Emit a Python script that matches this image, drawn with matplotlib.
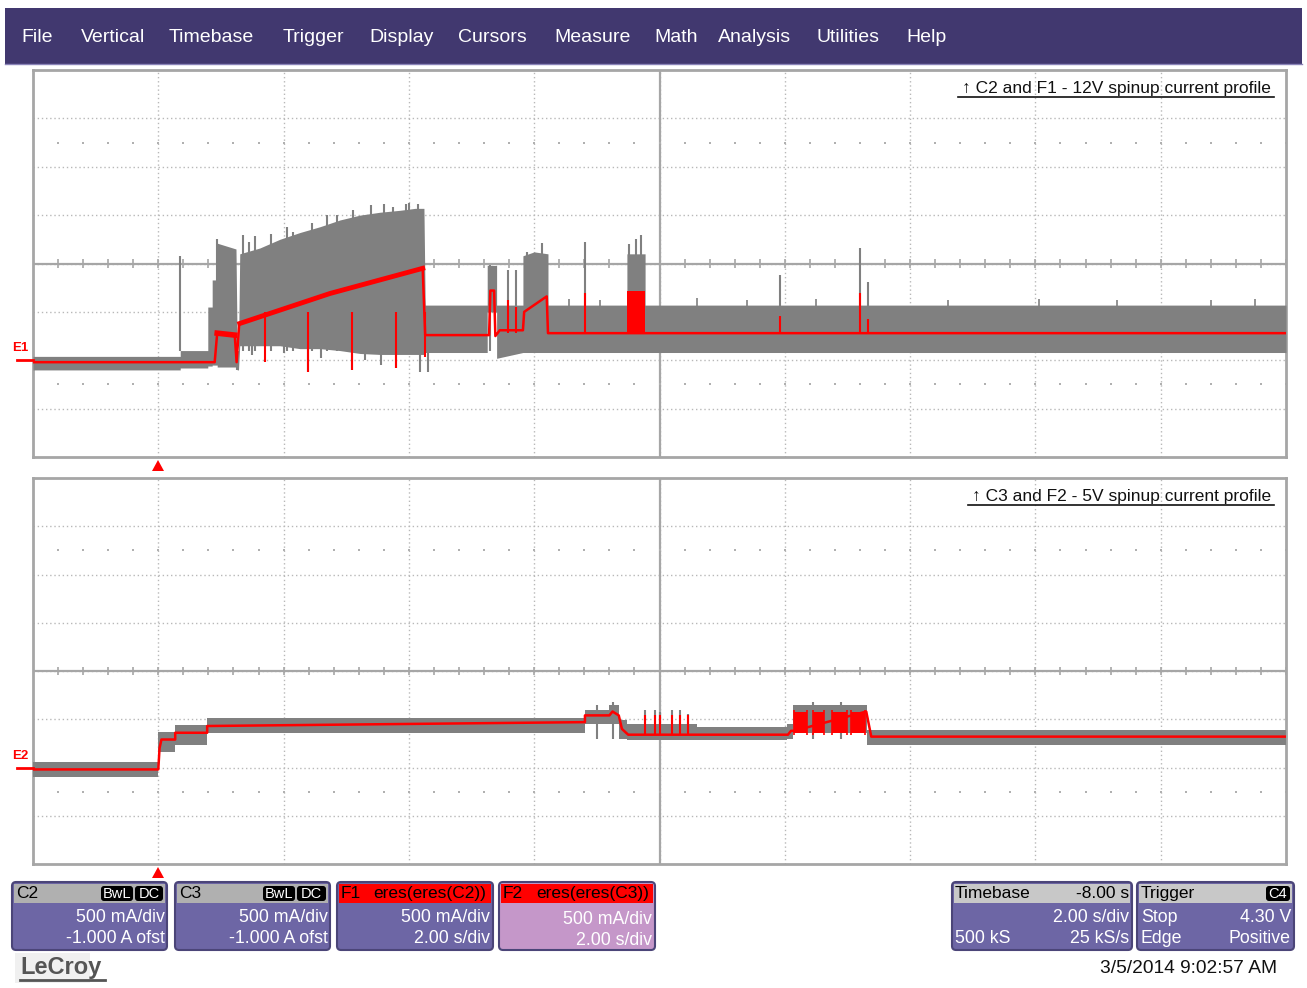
import numpy as np
import matplotlib
matplotlib.use('Agg')
import matplotlib.pyplot as plt
from matplotlib.patches import Rectangle, FancyBboxPatch, Polygon

plt.rcParams['font.family'] = ['Liberation Sans', 'DejaVu Sans']

W, H = 1307, 988

# ---------------- data (time in s, current in A) ----------------
menu_items = ['File', 'Vertical', 'Timebase', 'Trigger', 'Display', 'Cursors',
              'Measure', 'Math', 'Analysis', 'Utilities', 'Help']
menu_x = [21, 81, 169, 283, 369, 458, 554, 654, 718, 817, 906]

# C2 raw (gray) envelope, polyline breakpoints
c2_t  = [-2.00, 0.35, 0.35, 0.79, 0.79, 0.86, 0.86, 0.94, 0.94, 1.24, 1.26, 1.28, 1.30, 1.62, 1.94, 2.26,
         2.58, 2.90, 3.22, 3.54, 3.86, 4.10, 4.24, 4.26, 5.25, 5.25, 5.40, 5.40, 5.82, 5.82, 6.00, 6.22,
         6.22, 7.48, 7.48, 7.77, 7.77, 18.0]
c2_hi = [0.04, 0.04, 0.10, 0.10, 0.55, 0.55, 0.83, 0.83, 1.21, 1.15, 0.10, 0.10, 1.10, 1.16, 1.25, 1.32,
         1.38, 1.45, 1.50, 1.53, 1.55, 1.57, 1.57, 0.57, 0.57, 0.98, 0.98, 0.57, 0.57, 1.08, 1.12, 1.10,
         0.57, 0.57, 1.10, 1.10, 0.57, 0.57]
c2_lo = [-0.10, -0.10, -0.08, -0.08, -0.06, -0.06, -0.05, -0.05, -0.07, -0.07, -0.10, -0.10, 0.15, 0.15, 0.15, 0.12,
         0.12, 0.10, 0.07, 0.06, 0.06, 0.06, 0.06, 0.08, 0.08, 0.50, 0.50, 0.02, 0.08, 0.08, 0.08, 0.08,
         0.08, 0.08, 0.08, 0.08, 0.08, 0.08]
# C2 isolated spikes (time, top)
c2_spk_t   = [0.35, 0.94, 1.35, 1.45, 1.55, 1.80, 2.05, 2.15, 2.45, 2.70, 2.85, 3.10, 3.40, 3.60, 3.75,
              3.95, 4.00, 4.15, 5.30, 5.58, 5.71, 5.88, 6.12, 6.81, 7.52, 7.62, 7.70, 9.92, 11.20, 11.33]
c2_spk_top = [1.08, 1.25, 1.29, 1.22, 1.28, 1.30, 1.38, 1.33, 1.42, 1.50, 1.50, 1.55, 1.60, 1.62, 1.58,
              1.62, 1.63, 1.62, 0.98, 0.93, 0.93, 1.12, 1.21, 1.22, 1.20, 1.25, 1.29, 0.88, 1.16, 0.81]
c2_dip_t   = [1.26, 1.50, 2.00, 2.39, 2.60, 3.09, 3.30, 3.55, 3.79, 4.18, 4.30]
c2_dip_bot = [-0.10, 0.05, 0.07, -0.12, 0.02, -0.10, 0.00, -0.05, -0.08, -0.12, -0.12]
c2_bump_t   = [6.55, 7.05, 8.60, 9.40, 10.50, 12.60, 14.05, 15.30, 16.80, 17.50]
c2_bump_top = [0.63, 0.62, 0.64, 0.62, 0.63, 0.62, 0.63, 0.62, 0.62, 0.63]

# F1 filtered (red)
f1_t = [-2.00, 0.90, 0.94, 1.22, 1.25, 1.29, 1.30, 2.74, 4.22, 4.26, 5.28, 5.30, 5.36, 5.38, 5.45, 5.82, 5.84, 6.20, 6.22, 18.0]
f1_a = [-0.02, -0.02, 0.28, 0.26, -0.02, 0.36, 0.38, 0.69, 0.95, 0.26, 0.26, 0.72, 0.72, 0.25, 0.31, 0.31, 0.50, 0.66, 0.28, 0.28]
f1_spk_t = [1.70, 2.39, 3.09, 3.79, 4.26]
f1_spk_v = [-0.02, -0.12, -0.10, -0.08, 0.03]
f1_up_t = [5.58, 5.71, 6.81, 9.92, 11.20, 11.33]
f1_up_v = [0.62, 0.55, 0.69, 0.46, 0.69, 0.43]
f1_block = (7.48, 7.77, 0.28, 0.72)

# C3 raw (gray) envelope
c3_t  = [-2.00, 0.00, 0.27, 0.78, 6.81, 7.20, 7.35, 7.48, 8.60, 10.03, 10.13, 11.32, 18.0]
c3_hi = [0.06, 0.37, 0.44, 0.51, 0.60, 0.65, 0.49, 0.45, 0.42, 0.45, 0.65, 0.39, 0.39]
c3_lo = [-0.10, 0.16, 0.23, 0.36, 0.45, 0.45, 0.30, 0.28, 0.28, 0.30, 0.36, 0.23, 0.23]
c3_spk_t   = [7.00, 7.25, 7.77, 7.93, 8.01, 8.20, 8.33, 8.45, 10.45, 10.90]
c3_spk_top = [0.65, 0.68, 0.60, 0.60, 0.58, 0.60, 0.60, 0.55, 0.68, 0.68]

# F2 filtered (red)
f2_t = [-2.00, 0.00, 0.02, 0.05, 0.27, 0.27, 0.78, 0.78, 6.81, 6.81, 7.20, 7.25, 7.35, 7.40, 7.50, 10.05, 10.10, 10.15, 11.30, 11.38, 18.0]
f2_a = [-0.02, -0.02, 0.20, 0.29, 0.29, 0.36, 0.36, 0.43, 0.47, 0.54, 0.54, 0.58, 0.54, 0.40, 0.34, 0.34, 0.38, 0.38, 0.58, 0.32, 0.32]
f2_spk_t = [7.77, 7.93, 8.01, 8.20, 8.33, 8.45]
f2_block_t = [10.15, 10.35, 10.45, 10.62, 10.75, 11.00, 11.05, 11.28]

GRAY = '#808080'
RED = '#ff0000'


def fbox(x0, y0, x1, y1):
    return [x0 / W, 1 - y1 / H, (x1 - x0) / W, (y1 - y0) / H]


fig = plt.figure(figsize=(W / 100, H / 100), dpi=100)
fig.patch.set_facecolor('white')

bg = fig.add_axes([0, 0, 1, 1], zorder=0)
bg.set_xlim(0, W)
bg.set_ylim(H, 0)
bg.axis('off')

fg = fig.add_axes([0, 0, 1, 1], zorder=5)
fg.set_xlim(0, W)
fg.set_ylim(H, 0)
fg.axis('off')
fg.patch.set_alpha(0)

# menu bar
bg.add_patch(Rectangle((5, 8), 1297, 56, color='#41386f', lw=0))
bg.plot([5, 1302], [64, 64], color='#8a84b8', lw=1)
for s, x in zip(menu_items, menu_x):
    bg.text(x, 37, s, color='white', fontsize=14, va='center', ha='left')


def panel(box, ylim, title):
    ax = fig.add_axes(fbox(*box), zorder=2)
    ax.set_xlim(-2, 18)
    ax.set_ylim(*ylim)
    ax.set_xticks([])
    ax.set_yticks([])
    for sp in ax.spines.values():
        sp.set_color('#a6a6a6')
        sp.set_linewidth(2)
    y0, y1 = ylim
    dy = (y1 - y0) / 8
    yc = y0 + 4 * dy
    gx = np.arange(-2, 18.01, 2.0)
    gy = y0 + dy * np.arange(9)
    ax.vlines(gx[1:-1], y0, y1, colors='#b8b8b8', linestyles=(0, (1, 2)), lw=1, zorder=1)
    ax.hlines(gy[1:-1], -2, 18, colors='#b8b8b8', linestyles=(0, (1, 2)), lw=1, zorder=1)
    ax.axvline(8, color='#a6a6a6', lw=1.6, zorder=1)
    ax.axhline(yc, color='#a6a6a6', lw=1.6, zorder=1)
    mt = np.arange(-2, 18.01, 0.4)
    ax.vlines(mt, yc - dy * 0.09, yc + dy * 0.09, colors='#a6a6a6', lw=1.2, zorder=1)
    for r in (yc - 2.5 * dy, yc + 2.5 * dy):
        ax.scatter(mt, np.full(mt.shape, r), s=1.5, color='#b0b0b0', marker='s', lw=0, zorder=1)
    ax.text(0.988, 0.953, title, transform=ax.transAxes, ha='right', va='center', fontsize=12.5, color='#111111')
    return ax


top = panel((33, 70, 1286, 457), (-1.0, 3.0), '\u2191 C2 and F1 - 12V spinup current profile')
bot = panel((33, 478, 1286, 864), (-1.0, 3.0), '\u2191 C3 and F2 - 5V spinup current profile')

# underline of titles
fg.plot([958, 1274], [97, 97], color='#111111', lw=1.2)
fg.plot([968, 1274], [505, 505], color='#111111', lw=1.2)

# top traces
top.fill_between(c2_t, c2_lo, c2_hi, color=GRAY, lw=0, zorder=3)
top.vlines(c2_spk_t, 0.1, c2_spk_top, color=GRAY, lw=1.5, zorder=3)
top.vlines(c2_dip_t, c2_dip_bot, 0.2, color=GRAY, lw=1.5, zorder=3)
top.vlines(c2_bump_t, 0.3, c2_bump_top, color=GRAY, lw=1.2, zorder=3)
top.plot(f1_t, f1_a, color=RED, lw=1.8, zorder=4)
top.plot(f1_t[2:4], f1_a[2:4], color=RED, lw=4, zorder=4)
top.plot(f1_t[6:9], f1_a[6:9], color=RED, lw=3.5, zorder=4)
top.vlines(f1_spk_t, f1_spk_v, 0.5, color=RED, lw=1.5, zorder=4)
top.vlines(f1_up_t, 0.28, f1_up_v, color=RED, lw=1.5, zorder=4)
top.add_patch(Rectangle((f1_block[0], f1_block[2]), f1_block[1] - f1_block[0], f1_block[3] - f1_block[2],
                        color=RED, lw=0, zorder=4))

# bottom traces
bot.fill_between(c3_t, c3_lo, c3_hi, step='post', color=GRAY, lw=0, zorder=3)
bot.vlines(c3_spk_t, 0.3, c3_spk_top, color=GRAY, lw=1.5, zorder=3)
bot.plot(f2_t, f2_a, color=RED, lw=1.8, zorder=4)
bot.vlines(f2_spk_t, 0.34, 0.54, color=RED, lw=1.5, zorder=4)
for a, b in zip(f2_block_t[::2], f2_block_t[1::2]):
    bot.fill_between([a, b], 0.36, 0.58, color=RED, lw=0, zorder=4)
bot.vlines(f2_block_t, 0.34, 0.60, color=RED, lw=1.2, zorder=4)

# ground markers and trigger arrows
for yz, lab in ((360, 'E1'), (768, 'E2')):
    fg.plot([17, 33], [yz, yz], color=RED, lw=2)
    fg.text(12, yz - 12, lab, color=RED, fontsize=9.5, fontweight='bold', ha='left', va='center')
for yt in (466, 873):
    bg.add_patch(Polygon([[152, yt + 5], [164, yt + 5], [158, yt - 6]], closed=True, color=RED, lw=0))


# info boxes
def info_box(x0, x1, head_col, body_col, lines, head_text):
    bg.add_patch(FancyBboxPatch((x0, 882), x1 - x0, 68, boxstyle='round,pad=0,rounding_size=4',
                                fc=body_col, ec='#4b4578', lw=1.5))
    bg.add_patch(Rectangle((x0 + 2, 884), x1 - x0 - 4, 19, color=head_col, lw=0))
    for (x, y, s, ha, c) in head_text:
        bg.text(x, y, s, ha=ha, va='center', fontsize=12.5, color=c)
    for (x, y, s, ha) in lines:
        bg.text(x, y, s, ha=ha, va='center', fontsize=12.8, color='white')


def badge(x0, x1, s):
    bg.add_patch(FancyBboxPatch((x0, 886), x1 - x0, 15, boxstyle='round,pad=0,rounding_size=3',
                                fc='black', ec='none'))
    bg.text((x0 + x1) / 2, 893.5, s, ha='center', va='center', fontsize=10.5, color='white')


PURPLE = '#6d66a5'
info_box(12, 167, '#b0b0b0', PURPLE, [(165, 917, '500 mA/div', 'right'), (165, 938, '-1.000 A ofst', 'right')],
         [(16, 893, 'C2', 'left', 'black')])
badge(101, 133, 'BwL')
badge(135, 163, 'DC')
info_box(175, 330, '#b0b0b0', PURPLE, [(328, 917, '500 mA/div', 'right'), (328, 938, '-1.000 A ofst', 'right')],
         [(179, 893, 'C3', 'left', 'black')])
badge(263, 295, 'BwL')
badge(297, 326, 'DC')
info_box(337, 493, RED, PURPLE, [(490, 917, '500 mA/div', 'right'), (490, 938, '2.00 s/div', 'right')],
         [(341, 893, 'F1', 'left', 'black'), (373, 893, 'eres(eres(C2))', 'left', 'black')])
info_box(499, 655, RED, '#c597c9', [(652, 919, '500 mA/div', 'right'), (652, 940, '2.00 s/div', 'right')],
         [(503, 893, 'F2', 'left', 'black'), (536, 893, 'eres(eres(C3))', 'left', 'black')])
info_box(952, 1132, '#c8c8c8', PURPLE,
         [(1129, 917, '2.00 s/div', 'right'), (955, 938, '500 kS', 'left'), (1129, 938, '25 kS/s', 'right')],
         [(955, 893, 'Timebase', 'left', 'black'), (1129, 893, '-8.00 s', 'right', 'black')])
info_box(1137, 1294, '#c8c8c8', PURPLE,
         [(1141, 917, 'Stop', 'left'), (1291, 917, '4.30 V', 'right'),
          (1141, 938, 'Edge', 'left'), (1291, 938, 'Positive', 'right')],
         [(1141, 893, 'Trigger', 'left', 'black')])
badge(1266, 1290, 'C4')

# logo and date
bg.add_patch(Rectangle((15, 953), 75, 30, color='#f0f0f0', lw=0))
bg.text(20, 967, 'LeCroy', fontsize=17, fontweight='bold', color='#555555', ha='left', va='center')
bg.plot([20, 105], [980, 980], color='#555555', lw=2)
bg.text(1277, 968, '3/5/2014 9:02:57 AM', fontsize=13.8, color='#111111', ha='right', va='center')

fig.savefig('out.png', dpi=100)
